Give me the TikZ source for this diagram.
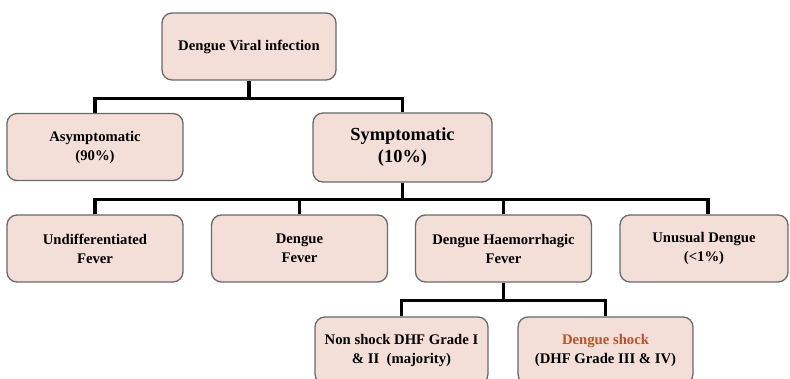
\documentclass[tikz,border=0pt]{standalone}
\usepackage{fontspec}
\setmainfont{Liberation Serif}
\usepackage{tikz}
\usetikzlibrary{positioning}
\usepackage{xcolor}

\begin{document}
\begin{tikzpicture}[x=1pt,y=-1pt]
        % Define some colors for convenience
        \definecolor{boxfill}{RGB}{243,222,216} % box fill color
        \definecolor{boxline}{RGB}{105,105,105} % box border color
        \definecolor{shockcolor}{RGB}{185,82,40} % dengue shock text color
        
        % Styles
        \tikzset{
            stage/.style={draw=boxline, fill=boxfill, line width=1.3pt, rounded corners=10pt,
                minimum width=176pt, minimum height=67pt, align=center, inner sep=2pt,
                font=\bfseries\fontsize{14.7}{19}\selectfont},
            link/.style={line width=3.6pt, black}
        }
        
        % Page size
        \clip (0,0) rectangle (790,379);
        
        % Boxes
        \node[stage, minimum width=174pt] (viral) at (249,46.5) {Dengue Viral infection}; % top box
        \node[stage] (asym) at (95,147) {Asymptomatic\\(90\%)}; % asymptomatic
        \node[stage, minimum width=179pt, minimum height=69pt, font=\bfseries\fontsize{18.4}{22}\selectfont] (sym) at (402.5,147.5) {Symptomatic\\(10\%)}; % symptomatic
        \node[stage] (undiff) at (95,248.5) {Undifferentiated\\Fever}; % UF
        \node[stage] (df) at (299.5,248.5) {Dengue\\Fever}; % DF
        \node[stage] (dhf) at (503.5,248.5) {Dengue Haemorrhagic\\Fever}; % DHF
        \node[stage, minimum width=168pt] (unusual) at (704,248.5) {Unusual Dengue\\(<1\%)}; % unusual
        \node[stage, minimum width=173pt] (nonshock) at (401.5,350.5) {Non shock DHF Grade I\\\& II\ \ (majority)}; % grade I and II
        \node[stage, minimum width=175pt] (shock) at (605.5,350.5) {\textcolor{shockcolor}{Dengue shock}\\(DHF Grade III \& IV)}; % grade III and IV
        
        % Bus levels
        \coordinate (bus1) at (0,98.5);
        \coordinate (bus2) at (0,199.5);
        \coordinate (bus3) at (0,300.5);
        \coordinate (uhook) at (708,0); % drop to the unusual box
        
        % Connectors
        \draw[link] (viral.south) -- (viral.south |- bus1);
        \draw[link] (asym.north) |- (sym.north |- bus1) -- (sym.north);
        \draw[link] (sym.south) -- (sym.south |- bus2);
        \draw[link] (undiff.north) |- (uhook |- bus2) -- (uhook |- unusual.north);
        \draw[link] (df.north) -- (df.north |- bus2);
        \draw[link] (dhf.north) -- (dhf.north |- bus2);
        \draw[link] (dhf.south) -- (dhf.south |- bus3);
        \draw[link] (nonshock.north) |- (shock.north |- bus3) -- (shock.north);
\end{tikzpicture}
\end{document}
